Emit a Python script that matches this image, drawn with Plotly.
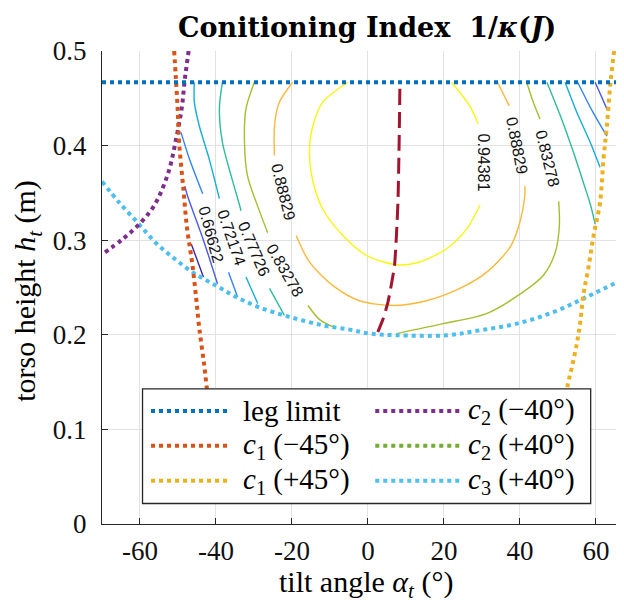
import plotly.graph_objects as go

# ---------------- figure geometry (pixels, measured on the reference) ----------------
OFF = 8                      # the page body margin shifts the figure by 8 px
W, H = 624 - OFF, 604 - OFF
L, R, T, B = 102.3, 624.0, 50.6, 524.0   # plot-area box in reference pixels

X_RANGE = [-70, 67.4]
Y_RANGE = [0, 0.5]

x_tick_vals = [-60, -40, -20, 0, 20, 40, 60]
x_tick_text = ["-60", "-40", "-20", "0", "20", "40", "60"]
y_tick_vals = [0, 0.1, 0.2, 0.3, 0.4, 0.5]
y_tick_text = ["0", "0.1", "0.2", "0.3", "0.4", "0.5"]

# ---------------- constraint curves ----------------
leg_limit_x = [-70, 67.4]
leg_limit_y = [0.467, 0.467]

c1_m45_x = [-51.0, -50.6, -50.1, -49.7, -48.6, -47.6, -46.3, -45.3, -44.4, -43.1, -42.3, -41.6]
c1_m45_y = [0.500, 0.474, 0.440, 0.4035, 0.355, 0.312, 0.277, 0.242, 0.207, 0.168, 0.140, 0.120]

c1_p45_x = [64.8, 63.8, 62.9, 62.0, 61.1, 59.4, 58.0, 56.7, 55.9, 55.0, 53.7, 52.6, 51.8]
c1_p45_y = [0.500, 0.465, 0.421, 0.386, 0.340, 0.305, 0.270, 0.242, 0.214, 0.191, 0.166, 0.147, 0.120]

c2_m40_x = [-47.2, -48.2, -49.0, -50.5, -52.5, -56.2, -60.2, -64.6, -70.0]
c2_m40_y = [0.500, 0.470, 0.440, 0.407, 0.372, 0.337, 0.317, 0.301, 0.285]

c2_p40_x = [65.8, 66.5, 67.4, 68.5]
c2_p40_y = [0.500, 0.480, 0.460, 0.440]

c3_p40_x = [-70.0, -65.5, -60.5, -55.8, -51.4, -46.1, -40.0, -34.7, -28.6, -20.7, -11.9, -4.8,
            0.4, 7.5, 20.7, 29.5, 39.2, 48.8, 57.6, 67.4]
c3_p40_y = [0.362, 0.340, 0.318, 0.297, 0.282, 0.266, 0.252, 0.240, 0.229, 0.219, 0.210, 0.2055,
            0.2013, 0.1995, 0.1995, 0.2048, 0.2118, 0.224, 0.240, 0.2593]

optimum_x = [8.4, 8.2, 7.9, 7.5, 7.0, 6.6, 5.3, 4.0, 2.6]
optimum_y = [0.460, 0.400, 0.340, 0.305, 0.273, 0.263, 0.235, 0.217, 0.203]

# ---------------- contour lines of 1/kappa(J) ----------------
levels = [0.5552, 0.6107, 0.66622, 0.72174, 0.77726, 0.83278, 0.88829, 0.94381]

lvl_05552_x = [-46.5, -43.3]
lvl_05552_y = [0.296, 0.261]

lvl_06107_x = [-48.2, -47.5, -43.3, -39.6, None, 59.8, 62.9]
lvl_06107_y = [0.357, 0.347, 0.300, 0.254, None, 0.467, 0.4388]

lvl_066622_x = [-49.2, -47.0, -43.5, None, -36.7, -34.3, None, 55.2, 59.0, 62.9]
lvl_066622_y = [0.414, 0.386, 0.349, None, 0.266, 0.240, None, 0.467, 0.437, 0.410]

lvl_072174_x = [-45.7, -45.7, -44.4, -41.8, -39.1, None, -32.1, -29.0, None, 51.9, 55.0, 58.5, 61.1]
lvl_072174_y = [0.467, 0.446, 0.421, 0.386, 0.344, None, 0.261, 0.233, None, 0.467, 0.435, 0.4035, 0.377]

lvl_077726_x = [-38.3, -39.1, -38.3, -36.0, -33.9, -33.4, None, -25.9, -22.0,
                None, 47.1, 50.6, 54.1, 56.7, 58.5, 59.8]
lvl_077726_y = [0.467, 0.439, 0.4035, 0.368, 0.3385, 0.331, None, 0.249, 0.2206,
                None, 0.467, 0.432, 0.393, 0.361, 0.3385, 0.317]

lvl_083278_x = [-29.9, -32.1, -32.5, -31.7, -29.4, -26.4, None, -15.8, -12.7, -9.0,
                None, 7.5, 19.8, 31.2, 40.4, 46.2, 49.3, 50.4, 50.2, None, 45.3, 43.5, 41.8]
lvl_083278_y = [0.467, 0.439, 0.4035, 0.368, 0.340, 0.308, None, 0.231, 0.216, 0.208,
                None, 0.2013, 0.2118, 0.2224, 0.244, 0.263, 0.287, 0.316, 0.341, None, 0.428, 0.446, 0.467]

lvl_088829_x = [-19.8, -23.3, -24.6, -24.6, None, -18.9, -15.4, -9.2, -2.2, 6.6, 15.4, 24.2,
                31.2, 37.4, 40.0, 41.3, 41.3, None, 37.2, 34.1]
lvl_088829_y = [0.467, 0.446, 0.421, 0.3895, None, 0.305, 0.277, 0.252, 0.236, 0.231, 0.236, 0.249,
                0.266, 0.2925, 0.319, 0.347, 0.357, None, 0.442, 0.467]

lvl_094381_x = [-5.3, -11.9, -14.5, -15.4, -14.4, -11.9, -6.6, -0.4, 7.5, 13.6, 20.7, 26.0, 29.5,
                None, 29.0, 26.8, 22.0]
lvl_094381_y = [0.467, 0.446, 0.421, 0.393, 0.361, 0.333, 0.305, 0.284, 0.274, 0.277, 0.291, 0.312, 0.337,
                None, 0.423, 0.442, 0.467]

contour_x = [lvl_05552_x, lvl_06107_x, lvl_066622_x, lvl_072174_x,
             lvl_077726_x, lvl_083278_x, lvl_088829_x, lvl_094381_x]
contour_y = [lvl_05552_y, lvl_06107_y, lvl_066622_y, lvl_072174_y,
             lvl_077726_y, lvl_083278_y, lvl_088829_y, lvl_094381_y]

# contour labels
label_text = ["0.66622", "0.72174", "0.77726", "0.83278", "0.88829", "0.94381", "0.88829", "0.83278"]
label_x = [-41.3, -36.0, -30.1, -21.8, -22.4, 30.3, 39.2, 47.2]
label_y = [0.306, 0.3024, 0.291, 0.268, 0.351, 0.382, 0.400, 0.386]

# ---------------- styles ----------------
parula_cols = ["#3E26A8", "#4A5BEA", "#2F86EE", "#13ADD8", "#30BC9A", "#A6BE2E", "#FBB83A", "#F6F80F"]
label_angle = [75, 71, 67, 60, 76, 90, 79, 76]

COL_LEG = "#0072BD"
COL_C1M = "#D95319"
COL_C1P = "#EDB120"
COL_C2M = "#7E2F8E"
COL_C2P = "#77AC30"
COL_C3 = "#4DBEEE"
COL_OPT = "#A2142F"

SERIF = "Liberation Serif"
DOT_W = 4

fig = go.Figure()

for xs, ys, col in zip(contour_x, contour_y, parula_cols):
    fig.add_trace(go.Scatter(x=xs, y=ys, mode="lines",
                             line=dict(color=col, width=1.4, shape="spline", smoothing=0.8),
                             hoverinfo="skip", showlegend=False, connectgaps=False))

dotted = [
    (c3_p40_x, c3_p40_y, COL_C3),
    (c2_m40_x, c2_m40_y, COL_C2M),
    (c2_p40_x, c2_p40_y, COL_C2P),
    (c1_m45_x, c1_m45_y, COL_C1M),
    (c1_p45_x, c1_p45_y, COL_C1P),
    (leg_limit_x, leg_limit_y, COL_LEG),
]
for xs, ys, col in dotted:
    fig.add_trace(go.Scatter(x=xs, y=ys, mode="lines",
                             line=dict(color=col, width=DOT_W, dash="4px,4px", shape="spline", smoothing=1.0),
                             hoverinfo="skip", showlegend=False))

fig.add_trace(go.Scatter(x=optimum_x, y=optimum_y, mode="lines",
                         line=dict(color=COL_OPT, width=3, dash="16px,7px", shape="spline", smoothing=0.6),
                         hoverinfo="skip", showlegend=False))

annotations = []
for t, x, y, a in zip(label_text, label_x, label_y, label_angle):
    annotations.append(dict(x=x, y=y, xref="x", yref="y", text=t, showarrow=False, textangle=a,
                            font=dict(family="Liberation Sans", size=16, color="#111111"),
                            xanchor="center", yanchor="middle"))


def px_x(px):
    """reference pixel -> paper x"""
    return (px - L) / (R - L)


def px_y(py):
    """reference pixel -> paper y"""
    return (B - py) / (B - T)


# axis titles and title
annotations.append(dict(x=px_x(366), y=px_y(584), xref="paper", yref="paper", showarrow=False,
                        text="tilt angle <i>α<sub>t</sub></i> (°)", xanchor="center", yanchor="middle",
                        font=dict(family=SERIF, size=30, color="#000000")))
annotations.append(dict(x=px_x(28), y=px_y(291), xref="paper", yref="paper", showarrow=False, textangle=-90,
                        text="torso height <i>h<sub>t</sub></i> (m)", xanchor="center", yanchor="middle",
                        font=dict(family=SERIF, size=30, color="#000000")))
annotations.append(dict(x=px_x(367), y=px_y(27), xref="paper", yref="paper", showarrow=False,
                        text="<b>Conitioning Index&nbsp;&nbsp;1/<i>κ</i>(<i>J</i>)</b>",
                        xanchor="center", yanchor="middle",
                        font=dict(family="DejaVu Serif", size=27, color="#000000")))

# manual legend (MATLAB style, two columns)
legend_names = [["leg limit", "<i>c</i><sub>1</sub> (−45°)", "<i>c</i><sub>1</sub> (+45°)"],
                ["<i>c</i><sub>2</sub> (−40°)", "<i>c</i><sub>2</sub> (+40°)", "<i>c</i><sub>3</sub> (+40°)"]]
legend_cols = [[COL_LEG, COL_C1M, COL_C1P], [COL_C2M, COL_C2P, COL_C3]]
box = (142.8, 388.7, 590.7, 503.5)
rows = [410.9, 445.6, 480.7]
samples = [(151.3, 229.6), (375.4, 459.5)]
text_x = [241.6, 466.4]

shapes = [dict(type="rect", xref="paper", yref="paper", layer="above",
               x0=px_x(box[0]), x1=px_x(box[2]), y0=px_y(box[3]), y1=px_y(box[1]),
               fillcolor="white", line=dict(color="#262626", width=1.3))]
for c in range(2):
    for r in range(3):
        shapes.append(dict(type="line", xref="paper", yref="paper", layer="above",
                           x0=px_x(samples[c][0]), x1=px_x(samples[c][1]),
                           y0=px_y(rows[r]), y1=px_y(rows[r]),
                           line=dict(color=legend_cols[c][r], width=DOT_W, dash="4px,4px")))
        annotations.append(dict(x=px_x(text_x[c]), y=px_y(rows[r]), xref="paper", yref="paper",
                                text=legend_names[c][r], showarrow=False, xanchor="left", yanchor="middle",
                                font=dict(family=SERIF, size=29, color="#000000")))

axis_common = dict(showgrid=True, gridcolor="#E2E2E2", gridwidth=1, zeroline=False,
                   showline=True, linecolor="#262626", linewidth=1.3, mirror=False,
                   ticks="inside", ticklen=6, tickwidth=1.2, tickcolor="#262626",
                   tickfont=dict(family=SERIF, size=27, color="#111111"))

fig.update_layout(
    width=W, height=H,
    margin=dict(l=L - OFF, r=624 - R, t=T - OFF, b=604 - B, pad=0),
    paper_bgcolor="white", plot_bgcolor="white",
    xaxis=dict(range=X_RANGE, tickvals=x_tick_vals, ticktext=x_tick_text, ticklabelstandoff=2, **axis_common),
    yaxis=dict(range=Y_RANGE, tickvals=y_tick_vals, ticktext=y_tick_text, ticklabelstandoff=9, **axis_common),
    annotations=annotations,
    shapes=shapes,
    showlegend=False,
)

fig.write_html("out.html")
